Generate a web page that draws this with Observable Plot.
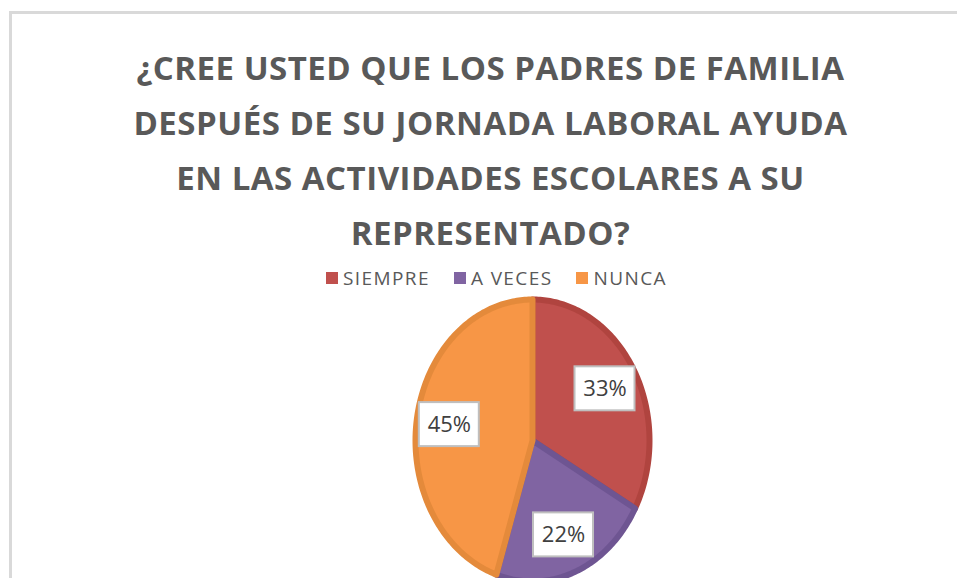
<!DOCTYPE html>
<html><head><meta charset="utf-8">
<script src="https://cdn.jsdelivr.net/npm/d3@7"></script>
<script src="https://cdn.jsdelivr.net/npm/@observablehq/plot@0.6"></script>
<style>
body{margin:0;background:#fff;}
#wrap{position:relative;width:957px;height:578px;overflow:hidden;background:#fff;}
#frame{position:absolute;left:9px;top:11px;right:-10px;bottom:-10px;border-top:3px solid #d9d9d9;border-left:3px solid #d9d9d9;}
#title{position:absolute;left:0;width:981px;top:40px;text-align:center;font-family:"Open Sans",sans-serif;font-weight:700;font-size:33px;line-height:55px;color:#595959;letter-spacing:0.5px;}
#legend{position:absolute;top:266px;left:326px;height:24px;display:flex;align-items:center;font-family:"Open Sans",sans-serif;font-size:19px;color:#595959;letter-spacing:1.4px;white-space:nowrap;}
.item{display:flex;align-items:center;margin-right:24px;}
.sw{width:12px;height:12px;margin-right:5px;}
#chart{position:absolute;left:0;top:290px;}
</style></head>
<body><div id="wrap"><div id="frame"></div>
<div id="title"></div>
<div id="legend"></div>
<div id="chart"></div></div>
<script>
const titleLines = ["¿CREE USTED QUE LOS PADRES DE FAMILIA","DESPUÉS DE SU JORNADA LABORAL AYUDA","EN LAS ACTIVIDADES ESCOLARES A SU","REPRESENTADO?"];
const categories = ["SIEMPRE","A VECES","NUNCA"];
const values = [33, 22, 45];
const fillColors = ["#c0504d","#8064a2","#f79646"];
const edgeColors = ["#b0443f","#6e5592","#e48a3b"];

document.getElementById("title").innerHTML = titleLines.map(l => `<div>${l}</div>`).join("");
document.getElementById("legend").innerHTML = categories.map((c,i) =>
  `<div class="item"><div class="sw" style="background:${fillColors[i]}"></div><span>${c}</span></div>`).join("");

const rows = categories.map((c,i) => ({cat:c, value:values[i], fill:fillColors[i], edge:edgeColors[i]}));
const arcs = d3.pie().sort(null).value(d => d.value)(rows);
const pts = [];
for (const a of arcs) {
  pts.push({cat:a.data.cat, fill:a.data.fill, edge:a.data.edge, x:0, y:0});
  const n = Math.max(8, Math.ceil((a.endAngle - a.startAngle) * 60));
  for (let k = 0; k <= n; k++) {
    const t = a.startAngle + (a.endAngle - a.startAngle) * k / n;
    pts.push({cat:a.data.cat, fill:a.data.fill, edge:a.data.edge, x:Math.sin(t), y:Math.cos(t)});
  }
  pts.push({cat:a.data.cat, fill:a.data.fill, edge:a.data.edge, x:0, y:0});
}
const labels = arcs.map(a => {
  const m = (a.startAngle + a.endAngle) / 2;
  return {x:0.72*Math.sin(m), y:0.72*Math.cos(m), text:Math.round(a.value) + "%"};
});

const plot = Plot.plot({
  width: 957, height: 288,
  margin: 0,
  x: {domain:[-1,1], range:[415,649], axis:null},
  y: {domain:[-1,1], range:[291,9], axis:null},
  color: {type:"identity"},
  marks: [
    Plot.line(pts, {x:"x", y:"y", z:"cat", fill:"fill", stroke:"edge", strokeWidth:6, strokeLinejoin:"round", curve:"linear"}),
    Plot.rect(labels, {x1:"x", x2:"x", y1:"y", y2:"y", insetLeft:-30, insetRight:-30, insetTop:-22, insetBottom:-22, fill:"white", stroke:"#bfbfbf", strokeWidth:2}),
    Plot.text(labels, {x:"x", y:"y", text:"text", fontSize:22, fill:"#404040", fontFamily:"Open Sans", textAnchor:"middle"})
  ]
});
document.getElementById("chart").appendChild(plot);
</script></body></html>
